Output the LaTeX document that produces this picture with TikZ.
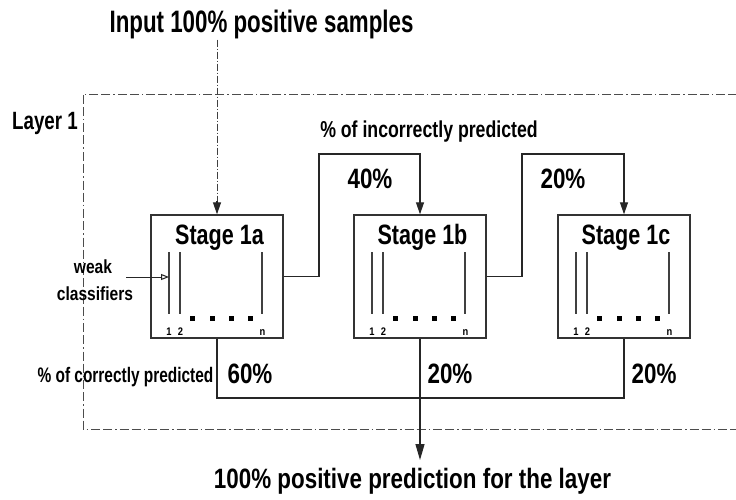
\documentclass[tikz,border=0pt]{standalone}
\usepackage{fontspec}
\usepackage{graphicx}
\newfontfamily\hv{Liberation Sans}
\usetikzlibrary{arrows.meta}
\newcommand\tx[3]{\scalebox{#2}[1]{\fontsize{#1}{#1}\selectfont\hv\bfseries #3}}
\begin{document}
\begin{tikzpicture}[x=1pt,y=-1pt,
  lbl/.style={inner sep=0pt, anchor=base},
  stagebox/.style={draw=black!80, line width=1.4pt, minimum width=132pt, minimum height=123pt, inner sep=0pt},
  conn/.style={draw=black!85, line width=1.2pt},
  arr/.style={conn, -{Triangle[length=12pt,width=8pt]}},
  dashdot/.style={draw=black!70, line width=1pt, dash pattern=on 9pt off 3pt on 9pt off 3pt on 1.5pt off 3pt},
  indash/.style={draw=black!75, line width=1pt, dash pattern=on 7pt off 2pt on 1pt off 2pt},
  clsline/.style={draw=black!75, line width=1.2pt},
  dotsq/.style={fill=black, minimum size=5pt, inner sep=0pt},
  small/.style={inner sep=0pt, anchor=base}
]
\useasboundingbox (0,0) rectangle (736,500);
\fill[white] (0,0) rectangle (736,500);
\begin{scope}
  \clip (0,0) rectangle (736,500);
  \draw[dashdot] (83,95) rectangle (760,429);
\end{scope}

% texts
\node[lbl] (title) at (261.5,33) {\tx{31}{0.72}{Input 100\% positive samples}};
\node[lbl] (layer) at (45,130) {\tx{25}{0.75}{Layer 1}};
\node[lbl] (incor) at (429,138) {\tx{23}{0.77}{\% of incorrectly predicted}};
\node[lbl] (cor) at (125.5,382) {\tx{21}{0.735}{\% of correctly predicted}};
\node[lbl] (weak) at (93,273) {\tx{19}{0.82}{weak}};
\node[lbl] (clsf) at (95,300) {\tx{19}{0.82}{classifiers}};
\node[lbl] (p40) at (370,188) {\tx{28}{0.8}{40\%}};
\node[lbl] (p20a) at (563,188) {\tx{28}{0.8}{20\%}};
\node[lbl] (p60) at (250,383) {\tx{28}{0.8}{60\%}};
\node[lbl] (p20b) at (450,383) {\tx{28}{0.8}{20\%}};
\node[lbl] (p20c) at (654,383) {\tx{28}{0.8}{20\%}};
\node[lbl] (out) at (412.5,488) {\tx{28}{0.8}{100\% positive prediction for the layer}};

% stages
\node[stagebox] (s1a) at (217,276.5) {};
\node[stagebox] (s1b) at (420,276.5) {};
\node[stagebox] (s1c) at (624,276.5) {};
\node[lbl] (t1a) at (219.5,244) {\tx{28}{0.77}{Stage 1a}};
\node[lbl] (t1b) at (422.5,244) {\tx{28}{0.77}{Stage 1b}};
\node[lbl] (t1c) at (626,244) {\tx{28}{0.77}{Stage 1c}};

\foreach \L/\n in {151/a,354/b,558/c}{
  \draw[clsline] (\L+18,252) -- (\L+18,314);
  \draw[clsline] (\L+29,252) -- (\L+29,314);
  \draw[clsline] (\L+111,252) -- (\L+111,314);
  \foreach \d in {41,61,80,99}{
    \node[dotsq] (dot\n\d) at (\L+\d,318) {};
  }
  \node[small] (one\n) at (\L+18,335) {\tx{11}{0.85}{1}};
  \node[small] (two\n) at (\L+29.5,335) {\tx{11}{0.85}{2}};
  \node[small] (nn\n) at (\L+111.5,335) {\tx{11}{0.85}{n}};
}

% weak classifier arrow
\coordinate (wkstart) at (126,277);
\coordinate (wkend) at (169,277);
\draw[conn, line width=1pt, -{Triangle[open,length=8pt,width=6pt]}] (wkstart) -- (wkend);

% input arrow
\draw[indash] (title.south -| s1a.north) -- ([yshift=12pt]s1a.north);
\draw[arr] ([yshift=13pt]s1a.north) -- (s1a.north);

% incorrect connectors
\coordinate (k1) at (319,154);
\coordinate (k2) at (522,154);
\draw[arr] (s1a.east) -| (k1) -| (s1b.north);
\draw[arr] (s1b.east) -| (k2) -| (s1c.north);

% correct connectors
\coordinate (bl) at (217,398);
\coordinate (br) at (624,398);
\draw[conn] (s1a.south) -- (bl) -- (br) -- (s1c.south);
\draw[arr, -{Triangle[length=16pt,width=9pt]}, shorten >=7.5pt] (s1b.south) -- (s1b.south |- out.north);
\end{tikzpicture}
\end{document}
